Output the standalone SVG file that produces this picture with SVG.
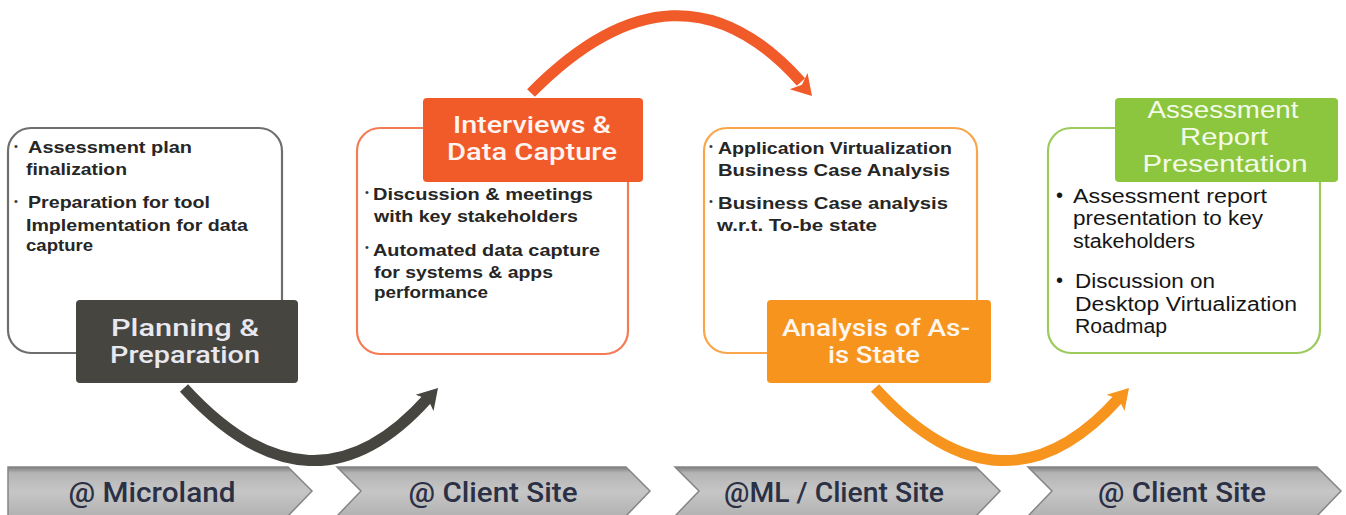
<svg xmlns="http://www.w3.org/2000/svg" width="1346" height="515" viewBox="0 0 1346 515">
<defs>
<linearGradient id="chev" x1="0" y1="0" x2="0" y2="1">
<stop offset="0" stop-color="#7e7e7e"/>
<stop offset="0.12" stop-color="#b4b4b4"/>
<stop offset="0.5" stop-color="#c6c6c6"/>
<stop offset="1" stop-color="#b2b2b2"/>
</linearGradient>
<style>
.frame{fill:#fff;stroke-width:2.2}
.b{font-family:"Liberation Sans",Arial,sans-serif;font-weight:bold;font-size:17px;fill:#262626}
.b4{font-family:"Liberation Sans",Arial,sans-serif;font-size:20px;fill:#151515}
.dot{font-family:"Liberation Sans",Arial,sans-serif;font-size:11px;fill:#333}
.lbl{font-family:Roboto,"Liberation Sans",sans-serif;font-weight:500;font-size:24px;text-anchor:middle}
.lbl3{font-family:Roboto,"Liberation Sans",sans-serif;font-weight:500;font-size:24px;text-anchor:middle;fill:#fff6ee}
.lbl4{font-family:"Liberation Sans",Arial,sans-serif;font-size:24px;text-anchor:middle;fill:#f3fbe8}
.chev{fill:url(#chev);stroke:#858585;stroke-width:1.5}
.ct{font-family:Roboto,"Liberation Sans",sans-serif;font-weight:500;font-size:27px;fill:#2b3045;text-anchor:middle}
.shaft{fill:none;stroke-width:11}
</style>
</defs>

<g id="connectors">
<g id="arrow-1">
<path class="shaft" d="M184,388 Q312,528 428,398" stroke="#46453f"/>
<polygon points="0,0 -20,-12 -15,0 -20,12" transform="translate(438,388) rotate(-48)" fill="#46453f"/>
</g>
<g id="arrow-2">
<path class="shaft" d="M531,93 Q678,-56 801,82" stroke="#f15a29"/>
<polygon points="0,0 -20,-12 -15,0 -20,12" transform="translate(812,96) rotate(48)" fill="#f15a29"/>
</g>
<g id="arrow-3">
<path class="shaft" d="M875,388 Q1003,528 1119,398" stroke="#f7941d"/>
<polygon points="0,0 -20,-12 -15,0 -20,12" transform="translate(1129,388) rotate(-48)" fill="#f7941d"/>
</g>
</g>

<g id="node-planning">
<rect class="frame" x="8" y="128" width="274" height="225" rx="23" stroke="#6e6e6e"/>
<text class="dot" x="14" y="150">•</text>
<text class="b" x="28" y="153" textLength="164" lengthAdjust="spacingAndGlyphs">Assessment plan</text>
<text class="b" x="26" y="175" textLength="101" lengthAdjust="spacingAndGlyphs">finalization</text>
<text class="dot" x="14" y="205">•</text>
<text class="b" x="28" y="208" textLength="182" lengthAdjust="spacingAndGlyphs">Preparation for tool</text>
<text class="b" x="26" y="231" textLength="222" lengthAdjust="spacingAndGlyphs">Implementation for data</text>
<text class="b" x="26" y="251" textLength="67" lengthAdjust="spacingAndGlyphs">capture</text>
<rect x="76" y="300" width="222" height="83" rx="4" fill="#46453f"/>
<text class="lbl" x="185" y="336" fill="#e8e8f0" textLength="148" lengthAdjust="spacingAndGlyphs">Planning &amp;</text>
<text class="lbl" x="185" y="363" fill="#e8e8f0" textLength="150" lengthAdjust="spacingAndGlyphs">Preparation</text>
</g>

<g id="node-interviews">
<rect class="frame" x="357" y="128" width="271" height="226" rx="23" stroke="#f47c55"/>
<rect x="423" y="98" width="220" height="84" rx="4" fill="#f15a29"/>
<text class="lbl" x="532" y="133" fill="#fff4f0" textLength="158" lengthAdjust="spacingAndGlyphs">Interviews &amp;</text>
<text class="lbl" x="532" y="160" fill="#fff4f0" textLength="170" lengthAdjust="spacingAndGlyphs">Data Capture</text>
<text class="dot" x="365" y="196">•</text>
<text class="b" x="373" y="200" textLength="220" lengthAdjust="spacingAndGlyphs">Discussion &amp; meetings</text>
<text class="b" x="374" y="222" textLength="204" lengthAdjust="spacingAndGlyphs">with key  stakeholders</text>
<text class="dot" x="365" y="251">•</text>
<text class="b" x="373" y="256" textLength="227" lengthAdjust="spacingAndGlyphs">Automated data capture</text>
<text class="b" x="374" y="278" textLength="179" lengthAdjust="spacingAndGlyphs">for systems &amp; apps</text>
<text class="b" x="374" y="298" textLength="114" lengthAdjust="spacingAndGlyphs">performance</text>
</g>

<g id="node-analysis">
<rect class="frame" x="704" y="128" width="273" height="225" rx="23" stroke="#f9a64a"/>
<text class="dot" x="709" y="150">•</text>
<text class="b" x="718" y="154" textLength="234" lengthAdjust="spacingAndGlyphs">Application Virtualization</text>
<text class="b" x="718" y="176" textLength="232" lengthAdjust="spacingAndGlyphs">Business Case Analysis</text>
<text class="dot" x="709" y="205">•</text>
<text class="b" x="718" y="209" textLength="230" lengthAdjust="spacingAndGlyphs">Business Case analysis</text>
<text class="b" x="717" y="231" textLength="160" lengthAdjust="spacingAndGlyphs">w.r.t.  To-be state</text>
<rect x="767" y="300" width="224" height="83" rx="4" fill="#f7941d"/>
<text class="lbl3" x="876" y="336" textLength="188" lengthAdjust="spacingAndGlyphs">Analysis of As-</text>
<text class="lbl3" x="874" y="363" textLength="92" lengthAdjust="spacingAndGlyphs">is State</text>
</g>

<g id="node-report">
<rect class="frame" x="1048" y="128" width="272" height="225" rx="23" stroke="#9ccb5c"/>
<rect x="1115" y="98" width="223" height="84" rx="4" fill="#8cc63f"/>
<text class="lbl4" x="1223" y="118" textLength="151" lengthAdjust="spacingAndGlyphs">Assessment</text>
<text class="lbl4" x="1224" y="145" textLength="88" lengthAdjust="spacingAndGlyphs">Report</text>
<text class="lbl4" x="1225" y="172" textLength="165" lengthAdjust="spacingAndGlyphs">Presentation</text>
<text class="b4" x="1056" y="202" font-size="16">•</text>
<text class="b4" x="1073" y="203" textLength="194" lengthAdjust="spacingAndGlyphs">Assessment  report</text>
<text class="b4" x="1073" y="225" textLength="190" lengthAdjust="spacingAndGlyphs">presentation  to key</text>
<text class="b4" x="1073" y="248" textLength="122" lengthAdjust="spacingAndGlyphs">stakeholders</text>
<text class="b4" x="1056" y="287" font-size="16">•</text>
<text class="b4" x="1075" y="288" textLength="140" lengthAdjust="spacingAndGlyphs">Discussion on</text>
<text class="b4" x="1075" y="311" textLength="222" lengthAdjust="spacingAndGlyphs">Desktop  Virtualization</text>
<text class="b4" x="1075" y="333" textLength="92" lengthAdjust="spacingAndGlyphs">Roadmap</text>
</g>

<g id="stage-1">
<polygon class="chev" points="8,467 288,467 312,491 288,516 8,516"/>
<text class="ct" x="152" y="502" textLength="167" lengthAdjust="spacingAndGlyphs">@ Microland</text>
</g>
<g id="stage-2">
<polygon class="chev" points="337,467 626,467 650,491 626,516 337,516 361,491"/>
<text class="ct" x="493" y="502" textLength="169" lengthAdjust="spacingAndGlyphs">@ Client Site</text>
</g>
<g id="stage-3">
<polygon class="chev" points="675,467 976,467 1000,491 976,516 675,516 699,491"/>
<text class="ct" x="834" y="502" textLength="220" lengthAdjust="spacingAndGlyphs">@ML / Client Site</text>
</g>
<g id="stage-4">
<polygon class="chev" points="1028,467 1317,467 1341,491 1317,516 1028,516 1052,491"/>
<text class="ct" x="1182" y="502" textLength="168" lengthAdjust="spacingAndGlyphs">@ Client Site</text>
</g>
</svg>
